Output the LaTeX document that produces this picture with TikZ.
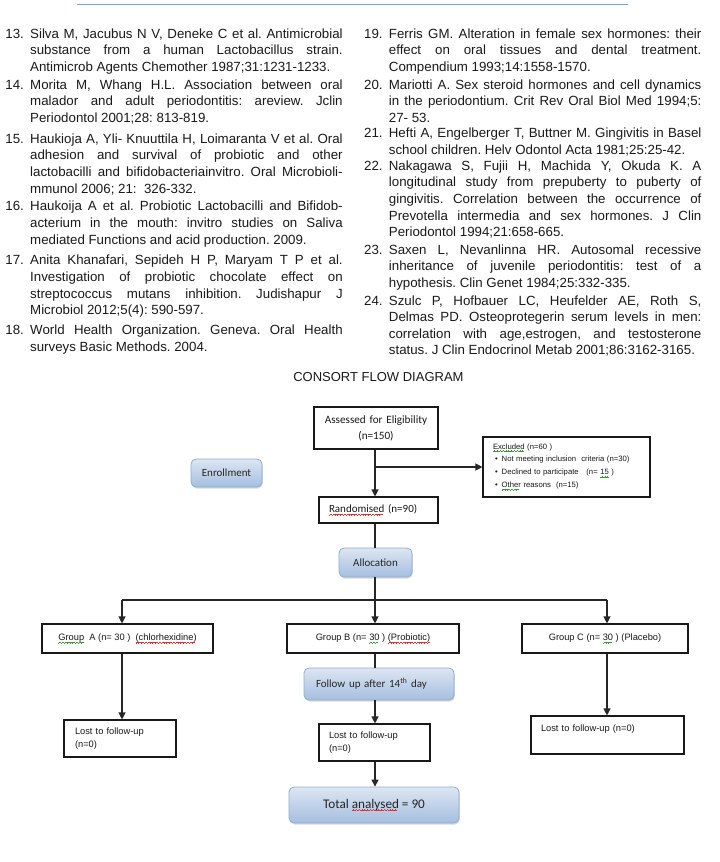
\documentclass[tikz,border=0pt]{standalone}
\usepackage{fontspec}
\setmainfont{Liberation Sans}
\newfontfamily\calfont{Carlito}
\usetikzlibrary{arrows.meta,shadows}
\definecolor{reftext}{HTML}{1A1A1A}
\definecolor{rulecol}{RGB}{125,160,210}
\definecolor{bluetop}{HTML}{DCE6F2}
\definecolor{bluebot}{HTML}{A5BEDF}
\definecolor{blueedge}{HTML}{8FADD4}
\definecolor{squigred}{HTML}{E03030}
\definecolor{squiggreen}{HTML}{3A9A3A}
\newsavebox\sqbox
\newcommand\sqline{\rule[-3.0pt]{0.7pt}{0.6pt}\rule[-2.5pt]{0.7pt}{0.6pt}\rule[-2.0pt]{0.7pt}{0.6pt}\rule[-2.5pt]{0.7pt}{0.6pt}}
\newcommand\squig[2]{\sbox\sqbox{#2}\rlap{\textcolor{#1}{\hbox to \wd\sqbox{\leaders\hbox{\sqline}\hfill}}}\usebox\sqbox}
\newcommand\redsq[1]{\squig{squigred}{#1}}
\newcommand\greensq[1]{\squig{squiggreen}{#1}}
\newcommand\refbody[2]{\parbox[t]{312.5pt}{\fontsize{13.3pt}{16.65pt}\selectfont\frenchspacing\leavevmode\llap{#1.\hspace{6.3pt}}#2}}
\tikzset{
  refpara/.style={anchor=base west, inner sep=0pt, text=reftext},
  wbox/.style={draw=black!90, line width=1.1pt, fill=white, inner ysep=0pt, align=center,
    font=\fontsize{9.3pt}{13.3pt}\selectfont, text=black!90},
  bluebox/.style={draw=blueedge, line width=0.8pt, rounded corners=5pt, top color=bluetop,
    bottom color=bluebot, drop shadow={shadow xshift=0.8pt, shadow yshift=-1.5pt, opacity=0.3},
    font=\calfont\fontsize{11pt}{13pt}\selectfont, text=black!85, inner ysep=0pt},
  arr/.style={-{Triangle[length=7pt,width=7pt]}, line width=1.1pt, draw=black!85},
  conn/.style={line width=1.1pt, draw=black!85}
}
\begin{document}
\frenchspacing
\begin{tikzpicture}[x=1pt,y=-1pt]
\path[use as bounding box, fill=white] (0,0) rectangle (720,862);
\draw[rulecol, line width=1pt] (77,4) -- (628,4);
% left column
\node[refpara] (r13) at (30,38.3) {\refbody{13}{Silva M, Jacubus N V, Deneke C et al. Antimicrobial\linebreak substance from a human Lactobacillus strain.\linebreak Antimicrob Agents Chemother 1987;31:1231-1233.}};
\node[refpara] (r14) at (30,89.3) {\refbody{14}{Morita M, Whang H.L. Association between oral\linebreak malador and adult periodontitis: areview. Jclin\linebreak Periodontol 2001;28: 813-819.}};
\node[refpara] (r15) at (30,143.3) {\refbody{15}{Haukioja A, Yli- Knuuttila H, Loimaranta V et al. Oral\linebreak adhesion and survival of probiotic and other\linebreak lactobacilli and bifidobacteriainvitro. Oral Microbioli-\linebreak mmunol 2006; 21:\ \ 326-332.}};
\node[refpara] (r16) at (30,210.7) {\refbody{16}{Haukoija A et al. Probiotic Lactobacilli and Bifidob-\linebreak acterium in the mouth: invitro studies on Saliva\linebreak mediated Functions and acid production. 2009.}};
\node[refpara] (r17) at (30,264.7) {\refbody{17}{Anita Khanafari, Sepideh H P, Maryam T P et al.\linebreak Investigation of probiotic chocolate effect on\linebreak streptococcus mutans inhibition. Judishapur J\linebreak Microbiol 2012;5(4): 590-597.}};
\node[refpara] (r18) at (30,334.5) {\refbody{18}{World Health Organization. Geneva. Oral Health\linebreak surveys Basic Methods. 2004.}};
% right column
\node[refpara] (r19) at (388.7,38.3) {\refbody{19}{Ferris GM. Alteration in female sex hormones: their\linebreak effect on oral tissues and dental treatment.\linebreak Compendium 1993;14:1558-1570.}};
\node[refpara] (r20) at (388.7,89) {\refbody{20}{Mariotti A. Sex steroid hormones and cell dynamics\linebreak in the periodontium. Crit Rev Oral Biol Med 1994;5:\linebreak 27- 53.}};
\node[refpara] (r21) at (388.7,137.7) {\refbody{21}{Hefti A, Engelberger T, Buttner M. Gingivitis in Basel\linebreak school children. Helv Odontol Acta 1981;25:25-42.}};
\node[refpara] (r22) at (388.7,170.3) {\refbody{22}{Nakagawa S, Fujii H, Machida Y, Okuda K. A\linebreak longitudinal study from prepuberty to puberty of\linebreak gingivitis. Correlation between the occurrence of\linebreak Prevotella intermedia and sex hormones. J Clin\linebreak Periodontol 1994;21:658-665.}};
\node[refpara] (r23) at (388.7,254) {\refbody{23}{Saxen L, Nevanlinna HR. Autosomal recessive\linebreak inheritance of juvenile periodontitis: test of a\linebreak hypothesis. Clin Genet 1984;25:332-335.}};
\node[refpara] (r24) at (388.7,305) {\refbody{24}{Szulc P, Hofbauer LC, Heufelder AE, Roth S,\linebreak Delmas PD. Osteoprotegerin serum levels in men:\linebreak correlation with age,estrogen, and testosterone\linebreak status. J Clin Endocrinol Metab 2001;86:3162-3165.}};
% diagram
\node[anchor=base, inner sep=0pt, font=\fontsize{13pt}{15pt}\selectfont, text=black!90] (title) at (378.4,381.5) {CONSORT FLOW DIAGRAM};
\node[wbox, minimum width=124pt, minimum height=42pt, text width=110pt, font=\calfont\fontsize{11.2pt}{16pt}\selectfont] (assess) at (376,428) {Assessed for Eligibility\\(n=150)};
\node[bluebox, minimum width=71pt, minimum height=28pt] (enroll) at (226.5,473) {Enrollment};
\node[wbox, minimum width=167pt, minimum height=60pt, text width=147pt, inner xsep=10pt, align=left, font=\fontsize{7.7pt}{12.8pt}\selectfont] (excl) at (566.5,467) {\greensq{Excluded} (n=60 )\\\hspace*{2pt}\textbullet\hspace{4pt}Not meeting inclusion\ \ criteria (n=30)\\\hspace*{2pt}\textbullet\hspace{4pt}Declined to participate\ \ \ (n=\ \greensq{15}\ )\\\hspace*{2pt}\textbullet\hspace{4pt}\greensq{Other} reasons\ \ (n=15)};
\node[wbox, minimum width=119pt, minimum height=26pt, text width=99pt, inner xsep=10pt, align=left, font=\calfont\fontsize{11pt}{13pt}\selectfont] (rand) at (378.5,510) {\redsq{Randomised} (n=90)};
\node[bluebox, minimum width=73pt, minimum height=29pt] (alloc) at (375.5,562.5) {Allocation};
\node[wbox, minimum width=171pt, minimum height=29pt] (grpA) at (127.5,638.5) {\greensq{Group}\ \ A (n= 30 )\ \ \redsq{(chlorhexidine)}};
\node[wbox, minimum width=172pt, minimum height=29pt] (grpB) at (373,638.5) {Group B (n= \greensq{30} ) \redsq{(Probiotic)}};
\node[wbox, minimum width=166pt, minimum height=29pt] (grpC) at (605,638.5) {Group C (n= \greensq{30} ) (Placebo)};
\node[bluebox, minimum width=150pt, minimum height=32pt, text width=126pt, inner xsep=12pt, align=left] (follow) at (379,684) {Follow up after 14\textsuperscript{th} day};
\node[wbox, minimum width=112pt, minimum height=37pt, text width=90pt, inner xsep=11pt, align=left] (lostA) at (120,738.5) {Lost to follow-up\\(n=0)};
\node[wbox, minimum width=111pt, minimum height=37pt, text width=91pt, inner xsep=10pt, align=left] (lostB) at (374.5,742.5) {Lost to follow-up\\(n=0)};
\node[wbox, minimum width=153pt, minimum height=38pt, text width=133pt, inner xsep=10pt, align=left] (lostC) at (607.5,735) {Lost to follow-up (n=0)\\\mbox{}};
\node[bluebox, minimum width=170pt, minimum height=36pt, font=\calfont\fontsize{13.2pt}{15pt}\selectfont] (total) at (374,805) {Total \redsq{analysed} = 90};
% connectors
\coordinate (spine) at (375,600);
\coordinate (hA) at (122,600);
\coordinate (hC) at (607,600);
\draw[arr] (spine |- assess.south) -- (spine |- rand.north);
\draw[arr] (spine |- excl.west) -- (excl.west);
\draw[conn] (spine |- rand.south) -- (spine |- alloc.north);
\draw[arr] (spine |- alloc.south) -- (spine |- grpB.north);
\draw[conn] (hA) -- (hC);
\draw[arr] (hA) -- (hA |- grpA.north);
\draw[arr] (hC) -- (hC |- grpC.north);
\draw[arr] (hA |- grpA.south) -- (hA |- lostA.north);
\draw[arr] (hC |- grpC.south) -- (hC |- lostC.north);
\draw[conn] (spine |- grpB.south) -- (spine |- follow.north);
\draw[arr] (spine |- follow.south) -- (spine |- lostB.north);
\draw[arr] (spine |- lostB.south) -- (spine |- total.north);
\end{tikzpicture}
\end{document}
